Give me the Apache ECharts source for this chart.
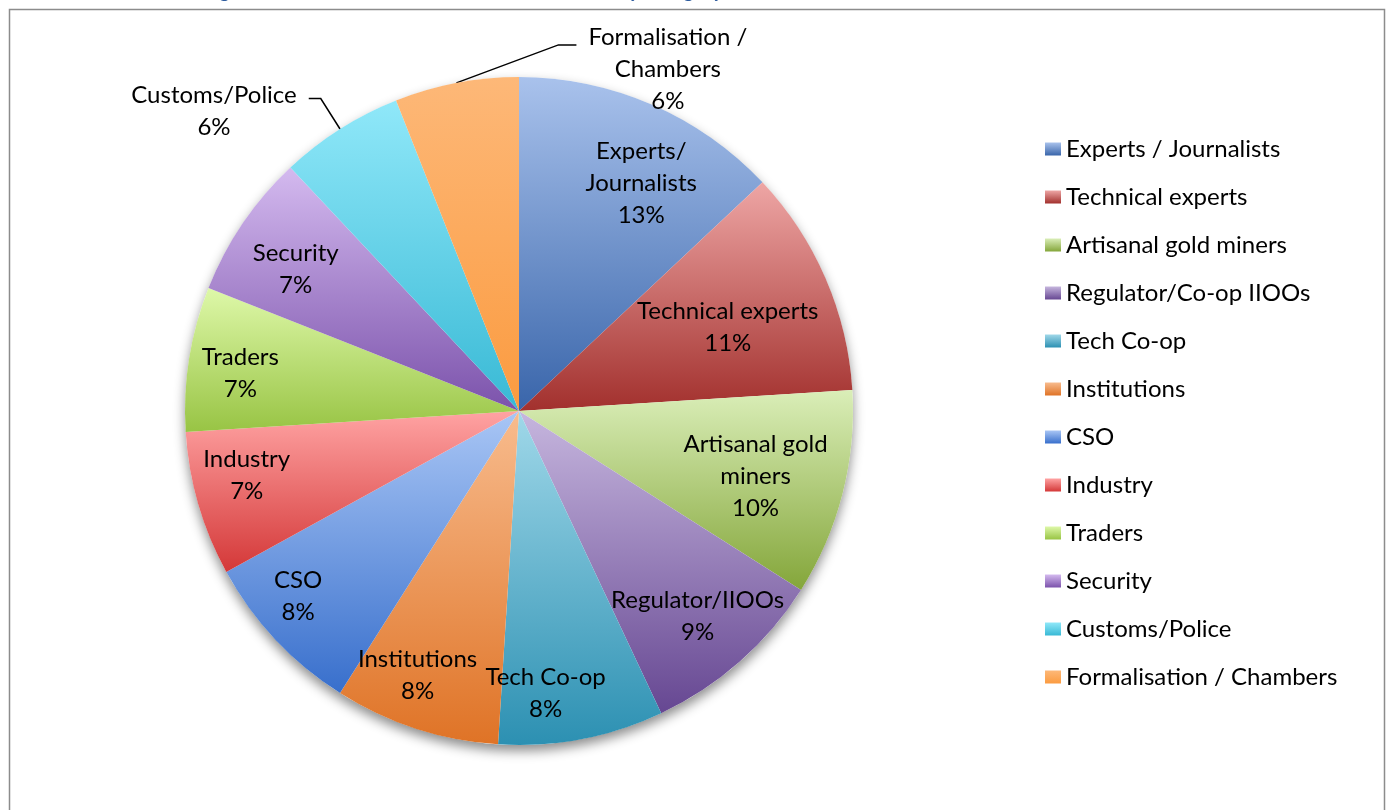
<!DOCTYPE html>
<html>
<head>
<meta charset="utf-8">
<script src="https://cdn.jsdelivr.net/npm/echarts@6/dist/echarts.min.js"></script>
<style>
  html, body { margin: 0; padding: 0; background: #fff; }
  #chart { width: 1389px; height: 810px; }
</style>
</head>
<body>
<div id="chart"></div>
<script>
// ---- data ----
const categories = [
  'Experts / Journalists', 'Technical experts', 'Artisanal gold miners',
  'Regulator/Co-op IIOOs', 'Tech Co-op', 'Institutions', 'CSO', 'Industry',
  'Traders', 'Security', 'Customs/Police', 'Formalisation / Chambers'
];
const sliceLabels = [
  'Experts/\nJournalists', 'Technical experts', 'Artisanal gold\nminers',
  'Regulator/IIOOs', 'Tech Co-op', 'Institutions', 'CSO', 'Industry',
  'Traders', 'Security', 'Customs/Police', 'Formalisation /\nChambers'
];
const values = [13, 11, 10, 9, 8, 8, 8, 7, 7, 7, 6, 6];
const outsideLabelIdx = [10, 11];
const lightColors = ['#A9C2EC', '#EEA6A5', '#DAEEB8', '#C6B6DE', '#A0D8E9', '#F8BC8E',
                     '#A9C6F5', '#FFA3A3', '#DEF8A9', '#D4BAEF', '#90E8F9', '#FDB878'];
const darkColors  = ['#3965AA', '#A2302D', '#84A63A', '#664792', '#2C90B2', '#DF7326',
                     '#386FCC', '#D43838', '#98C444', '#7B52AB', '#38B9D5', '#FB9B40'];
const titleText = 'Figure 6: Number of stakeholders interviewed by category';

// ---- chart ----
const FONT = 'Lato, "Open Sans", sans-serif';
const FS = 24;
const CENTER = [519, 411];
const R = 334;
// small per-label nudges of the in-slice labels (style only)
const LABEL_NUDGE = [[15, 20], [-39, 23], [-25, -2], [0, 3], [-24, 17], [-18, 7],
                     [-24, 0], [-13, -11], [-12, 5], [0, 10], [0, 0], [0, 0]];

function grad(i) {
  return new echarts.graphic.LinearGradient(0, 0, 0, 1, [
    { offset: 0, color: lightColors[i] },
    { offset: 1, color: darkColors[i] }
  ]);
}

const mainData = categories.map((n, i) => {
  const item = { name: n, value: values[i], itemStyle: { color: grad(i) } };
  if (outsideLabelIdx.indexOf(i) >= 0) {
    item.label = { show: true };
    item.labelLine = { show: true };
  }
  return item;
});
const labelData = categories.map((n, i) => ({
  name: n, value: values[i],
  label: { show: outsideLabelIdx.indexOf(i) < 0 }
}));

const chart = echarts.init(document.getElementById('chart'), null, { renderer: 'canvas' });
chart.setOption({
  animation: false,
  backgroundColor: '#fff',
  graphic: [
    { type: 'rect', left: 7, top: 7, z: -10, silent: true,
      shape: { width: 1375, height: 820 },
      style: { fill: 'none', stroke: '#8c8c8c', lineWidth: 1.5 } },
    { type: 'text', x: 204, y: 1, silent: true,
      style: { text: titleText, fill: '#2E5C9E', font: 'italic bold 21.5px ' + FONT,
               verticalAlign: 'bottom', align: 'left' } }
  ],
  legend: {
    orient: 'vertical',
    left: 1040,
    top: 132,
    data: categories,
    icon: 'rect',
    itemWidth: 16,
    itemHeight: 13,
    itemGap: 24,
    selectedMode: false,
    textStyle: { fontFamily: FONT, fontSize: FS, color: '#000', lineHeight: 24 }
  },
  series: [
    {
      type: 'pie', name: 'shadow', z: 1, silent: true,
      center: CENTER, radius: R,
      data: [{ value: 1, name: '__bg' }],
      label: { show: false }, labelLine: { show: false },
      itemStyle: { color: '#ffffff', shadowBlur: 12, shadowColor: 'rgba(0,0,0,0.45)', shadowOffsetY: 6 }
    },
    {
      type: 'pie', name: 'main', z: 2,
      center: CENTER, radius: R, startAngle: 90, clockwise: true,
      avoidLabelOverlap: false,
      data: mainData,
      itemStyle: { borderWidth: 0 },
      label: {
        show: false, position: 'outside', color: '#000',
        fontFamily: FONT, fontSize: FS, lineHeight: 32,
        distanceToLabelLine: 12,
        formatter: p => sliceLabels[p.dataIndex] + '\n' + Math.round(p.percent) + '%'
      },
      labelLine: { show: false, length: 36, length2: 12, smooth: false,
                   lineStyle: { color: '#000', width: 1.5 } },
      labelLayout: function (p) {
        if (!p.labelLinePoints) return {};
        const pts = p.labelLinePoints;
        if (p.dataIndex === 11) {
          const p0 = pts[0];
          const bend = [p0[0] + 102, p0[1] - 38];
          const end = [p0[0] + 120, p0[1] - 38];
          return {
            x: end[0] + 12 + p.labelRect.width / 2,
            y: end[1] - 24,
            align: 'center', verticalAlign: 'top',
            labelLinePoints: [p0, bend, end]
          };
        }
        if (p.dataIndex === 10) {
          const end = pts[2];
          return {
            x: p.labelRect.x + p.labelRect.width / 2,
            y: end[1] - 19,
            align: 'center', verticalAlign: 'top',
            labelLinePoints: pts
          };
        }
        return {};
      }
    },
    {
      type: 'pie', name: 'labels', z: 3, silent: true,
      center: CENTER, radius: [134, 400], startAngle: 90, clockwise: true,
      avoidLabelOverlap: false,
      data: labelData,
      itemStyle: { color: 'rgba(0,0,0,0)' },
      label: {
        position: 'inside', color: '#000',
        fontFamily: FONT, fontSize: FS, lineHeight: 32,
        formatter: p => sliceLabels[p.dataIndex] + '\n' + Math.round(p.percent) + '%'
      },
      labelLine: { show: false },
      labelLayout: function (p) {
        const n = LABEL_NUDGE[p.dataIndex] || [0, 0];
        const r = p.labelRect;
        return {
          x: r.x + r.width / 2 + n[0],
          y: r.y + r.height / 2 + n[1],
          align: 'center', verticalAlign: 'middle'
        };
      }
    }
  ]
});
</script>
</body>
</html>
